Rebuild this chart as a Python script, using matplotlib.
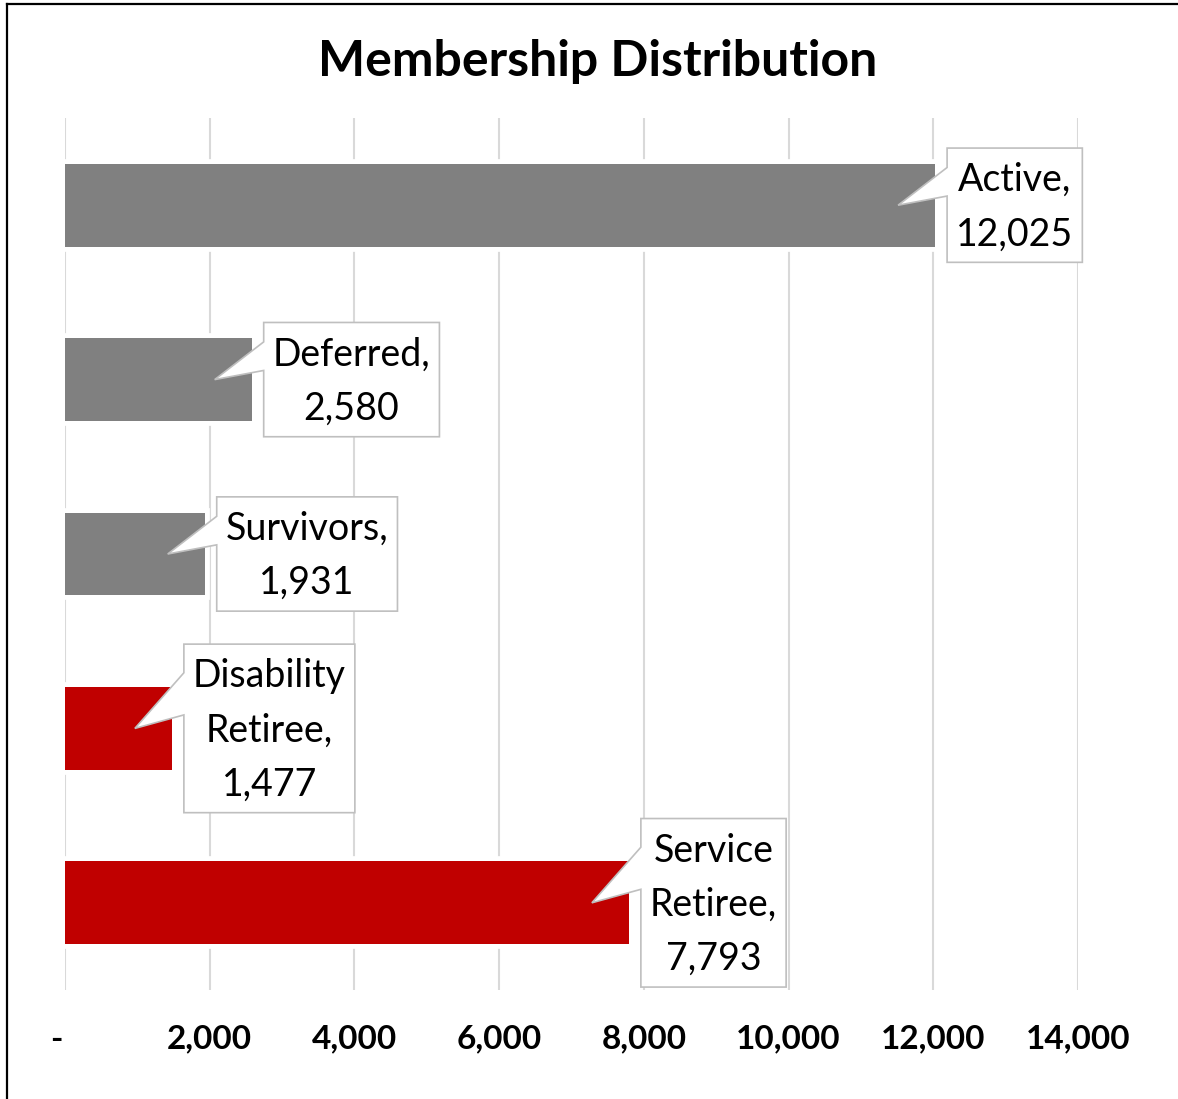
import matplotlib
matplotlib.use("Agg")
import matplotlib.pyplot as plt
from matplotlib.patches import Polygon
from matplotlib.lines import Line2D
import numpy as np

# Membership counts, top to bottom
categories = ["Active", "Deferred", "Survivors", "Disability Retiree", "Service Retiree"]
members = [12025, 2580, 1931, 1477, 7793]
bar_colors = ["#808080", "#808080", "#808080", "#c00000", "#c00000"]

x_ticks = [0, 2000, 4000, 6000, 8000, 10000, 12000, 14000]
x_tick_labels = ["-  ", "2,000", "4,000", "6,000", "8,000", "10,000", "12,000", "14,000"]

W, H, DPI = 1178, 1099, 100
plt.rcParams['font.family'] = ['Lato', 'DejaVu Sans']

fig = plt.figure(figsize=(W / DPI, H / DPI), dpi=DPI)
fig.patch.set_facecolor("white")
ax = fig.add_axes([65 / W, 109 / H, 1013 / W, 872 / H])
ax.set_xlim(0, 14000)
ax.set_ylim(4.5, -0.5)

y = np.arange(len(categories))
bar_h = 0.475
# white halo behind each bar so gridlines break around it
ax.barh(y, members, height=bar_h, color="white", edgecolor="white",
        linewidth=7, zorder=2)
ax.barh(y, members, height=bar_h, color=bar_colors, linewidth=0, zorder=3)

for s in ax.spines.values():
    s.set_visible(False)
ax.set_yticks([])
ax.set_xticks(x_ticks)
ax.set_xticklabels(x_tick_labels, fontsize=24, fontweight="bold")
ax.tick_params(axis="x", length=0, pad=25)
ax.xaxis.grid(True, color="#d9d9d9", linewidth=1.5)
ax.set_axisbelow(True)

fig.text(598 / W, 1 - 61 / H, "Membership Distribution", ha="center",
         va="center", fontsize=36, fontweight="bold")

# outer frame (left and top edges)
top = 1 - 4 / H
left = 7 / W
fig.add_artist(Line2D([left, left], [0, top], color="black", lw=1.6,
                      transform=fig.transFigure))
fig.add_artist(Line2D([left, 1], [top, top], color="black", lw=1.6,
                      transform=fig.transFigure))

# callout data labels
fig.canvas.draw()
renderer = fig.canvas.get_renderer()
to_fig = fig.transFigure.inverted()
label_size = 27

for name, val, yi in zip(categories, members, y):
    label = f"{name.replace(' ', chr(10))},\n{val:,}"
    ex, ey = ax.transData.transform((val, yi))
    t = fig.text(0, 0, label, fontsize=label_size, ha="center", va="center",
                 multialignment="center", linespacing=1.63, zorder=6)
    ext = t.get_window_extent(renderer)
    bw = ext.width + 18
    bh = ext.height + 24
    L = ex + 12
    R = L + bw
    cx = L + bw / 2
    cy = ey
    t.set_position(to_fig.transform((cx, cy - 2)))
    tip = (ex - 37, cy)
    verts = [(L, cy - bh / 2), (R, cy - bh / 2), (R, cy + bh / 2),
             (L, cy + bh / 2), (L, cy + 0.33 * bh), tip, (L, cy + 0.08 * bh)]
    verts = to_fig.transform(verts)
    fig.add_artist(Polygon(verts, closed=True, facecolor="white",
                           edgecolor="#bfbfbf", lw=1.2, zorder=5,
                           transform=fig.transFigure))

fig.savefig("out.png", dpi=DPI)
